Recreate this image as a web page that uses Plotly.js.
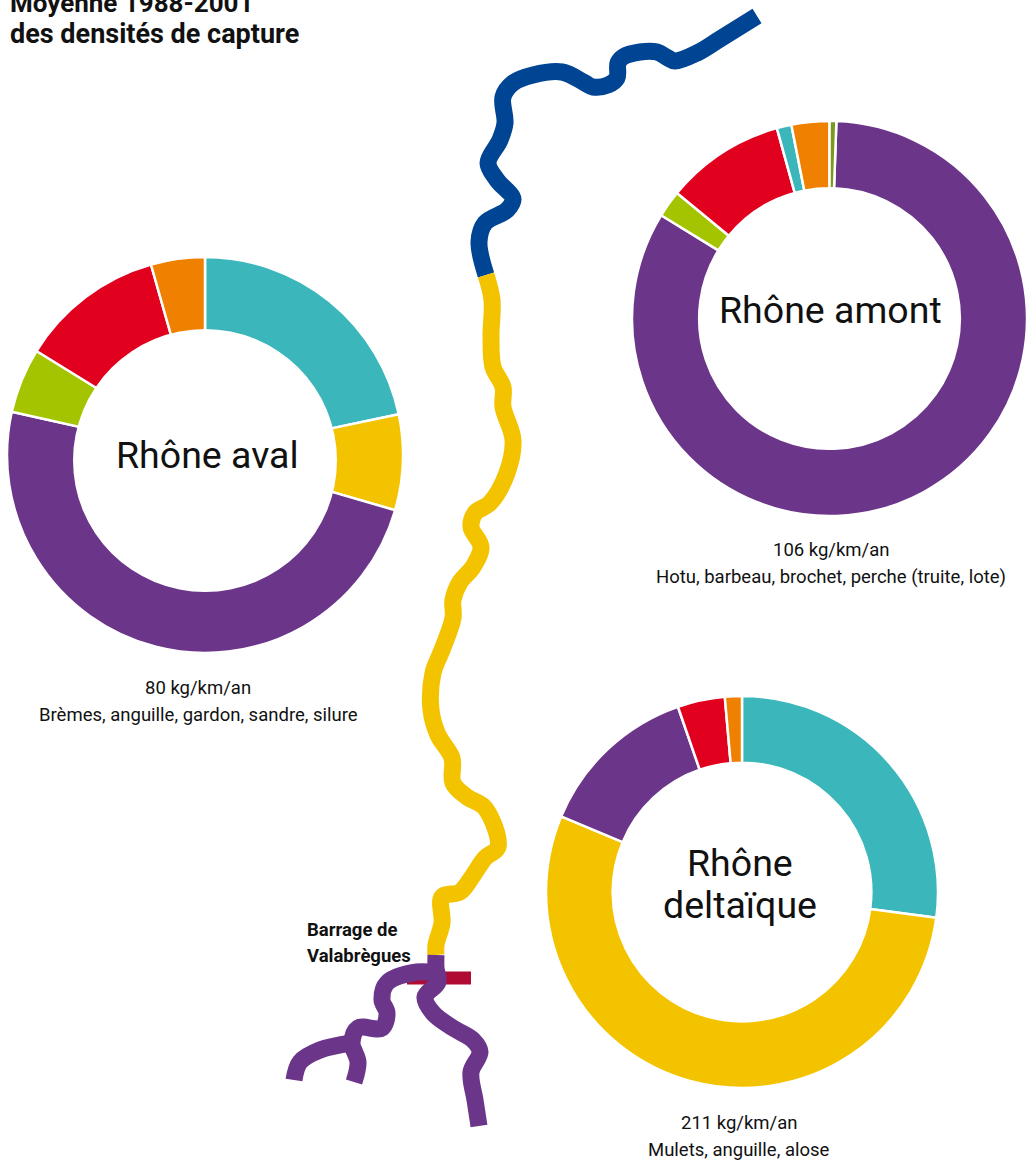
<!DOCTYPE html>
<html><head><meta charset="utf-8">
<script src="https://cdn.plot.ly/plotly-3.0.1.min.js"></script>
<style>html,body{margin:0;padding:0;background:#fff}</style></head>
<body><div id="chart" style="width:1027px;height:1162px"></div>
<script>
const PURPLE='#6b3589',TEAL='#3bb6ba',YELLOW='#f4c300',GREEN='#a5c400',RED='#e2001f',ORANGE='#f08000',OLIVE='#7a9a1e',BLUE='#004494',DAM='#b00c33';
const avalLabels=['A','B','C','D','E','F'];
const avalValues=[21.7,7.8,49,5.3,11.8,4.4];
const avalColors=[TEAL,YELLOW,PURPLE,GREEN,RED,ORANGE];
const amontLabels=['C','D','E','A','F','G'];
const amontValues=[83.2,2.2,9.75,1.2,3.1,0.55];
const amontColors=[PURPLE,GREEN,RED,TEAL,ORANGE,OLIVE];
const deltaLabels=['A','B','C','E','F'];
const deltaValues=[27.1,54.2,13.4,3.9,1.4];
const deltaColors=[TEAL,YELLOW,PURPLE,RED,ORANGE];

const blueX=[757,720,697,675,668,657,640,623,618,617,608,593,585,562,533,513,503,505,500,488,497,513,507,485,479,486];
const blueY=[16,39,53,61,58,52,52,57,63,78,85,87,83,72,75,83,97,123,140,163,180,199,210,223,242,275];
const yellowX=[486,492,491,493,503,503,513,507,490,475,471,481,473,460,453,453,442,433,431,438,452,453,467,485,498,485,472,460,442,442,436,436];
const yellowY=[275,300,337,367,387,407,440,473,503,513,527,547,567,582,600,618,650,673,710,735,758,783,797,808,847,858,877,892,897,923,945,955];
const purpleX=[436,436,438,425,433,453,473,480,471,475,479];
const purpleY=[955,968,982,997,1013,1028,1040,1052,1072,1100,1126];
const branchX=[436,417,387,382,387,382,358,352,358,354];
const branchY=[973,972,983,1000,1013,1028,1028,1043,1062,1082];
const forkX=[352,320,300,294];
const forkY=[1043,1050,1062,1080];
const damX=[407,471];
const damY=[978,978];

const W=1027,H=1162;
function pie(labels,values,colors,x0,x1,y0,y1,rot,hole){
  return {type:'pie',labels:labels,values:values,sort:false,direction:'clockwise',rotation:rot,hole:hole,
    marker:{colors:colors,line:{color:'#fff',width:2.5}},textinfo:'none',hoverinfo:'label+percent',showlegend:false,
    domain:{x:[x0/W,x1/W],y:[1-y1/H,1-y0/H]}};
}
function river(x,y,c,w,shape){
  return {type:'scatter',mode:'lines',x:x,y:y,line:{color:c,width:w,shape:shape||'spline',smoothing:1},hoverinfo:'skip',showlegend:false};
}
const traces=[
  river(damX,damY,DAM,13,'linear'),
  river(blueX,blueY,BLUE,17),
  river(yellowX,yellowY,YELLOW,17),
  river(forkX,forkY,PURPLE,17),
  river(branchX,branchY,PURPLE,17),
  river(purpleX,purpleY,PURPLE,17),
  pie(avalLabels,avalValues,avalColors,7,403,257,653,0,0.5),
  pie(amontLabels,amontValues,amontColors,632,1028,120,517,2,0.66),
  pie(deltaLabels,deltaValues,deltaColors,546,938,696,1088,0,0.66)
];
const DIN='"Roboto","Noto Sans",sans-serif';
function note(text,x,y,size,family,align,color){
  return {text:text,x:x,y:y,xref:'x',yref:'y',showarrow:false,xanchor:align||'center',yanchor:'middle',align:align||'center',
    font:{family:family,size:size,color:color||'#111'}};
}
const layout={width:W,height:H,margin:{l:0,r:0,t:0,b:0},paper_bgcolor:'#fff',plot_bgcolor:'#fff',showlegend:false,
  xaxis:{range:[0,W],visible:false,fixedrange:true},
  yaxis:{range:[H,0],visible:false,fixedrange:true},
  shapes:[{type:'circle',xref:'x',yref:'y',x0:73,x1:337,y0:329,y1:592,fillcolor:'#fff',line:{width:0},layer:'above'}],
  annotations:[
    note('<b>Moyenne 1988-2001</b>',8,3,26,DIN,'left'),
    note('<b>des densités de capture</b>',8,34,27,DIN,'left'),
    note('Rhône aval',207,455,37.5,DIN),
    note('Rhône amont',830,310,37.5,DIN),
    note('Rhône',740,863,37.5,DIN),
    note('deltaïque',740,905,37.5,DIN),
    note('80 kg/km/an',198,688,18.5,DIN),
    note('Brèmes, anguille, gardon, sandre, silure',198,715,18.5,DIN),
    note('106 kg/km/an',831,550,18.5,DIN),
    note('Hotu, barbeau, brochet, perche (truite, lote)',831,577,18.5,DIN),
    note('211 kg/km/an',739,1123,18.5,DIN),
    note('Mulets, anguille, alose',739,1150,18.5,DIN),
    note('<b>Barrage de</b>',305,930,18.5,DIN,'left'),
    note('<b>Valabrègues</b>',305,956,18.5,DIN,'left')
  ]};
Plotly.newPlot('chart',traces,layout,{displayModeBar:false,responsive:false});
</script></body></html>
